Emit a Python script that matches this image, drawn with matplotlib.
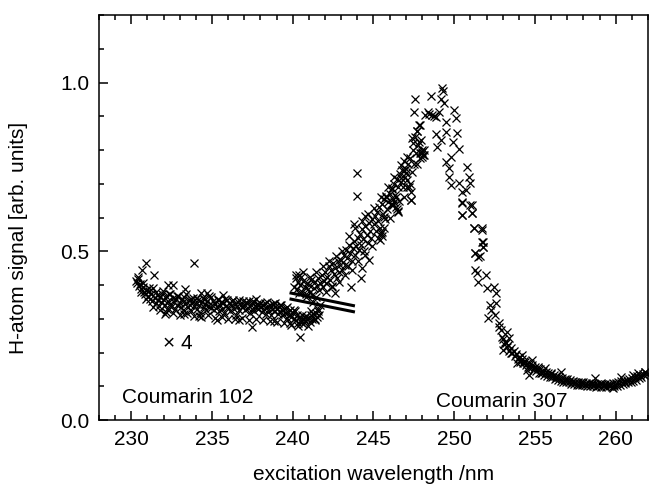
import matplotlib.pyplot as plt
from matplotlib.ticker import MultipleLocator

plt.rcParams['font.family'] = ['Liberation Sans', 'DejaVu Sans']

# ---- Coumarin 102 (scaled x4) ----
c102_x = [230.30, 230.36, 230.42, 230.48, 230.55, 230.62, 230.70, 230.78, 230.86, 230.94,
          231.02, 231.09, 231.16, 231.23, 231.30, 231.37, 231.44, 231.51, 231.58, 231.65, 231.72, 231.79, 231.86, 231.93,
          232.00, 232.07, 232.14, 232.21, 232.28, 232.35, 232.42, 232.49, 232.56, 232.63, 232.70, 232.77, 232.84, 232.91,
          233.00, 233.07, 233.14, 233.21, 233.28, 233.35, 233.42, 233.49, 233.56, 233.63, 233.70, 233.77, 233.84, 233.91,
          234.00, 234.07, 234.14, 234.21, 234.28, 234.35, 234.42, 234.49, 234.56, 234.63, 234.70, 234.77, 234.84, 234.91,
          235.00, 235.07, 235.14, 235.21, 235.28, 235.35, 235.42, 235.49, 235.56, 235.63, 235.70, 235.77, 235.84, 235.91,
          236.00, 236.07, 236.14, 236.21, 236.28, 236.35, 236.42, 236.49, 236.56, 236.63, 236.70, 236.77, 236.84, 236.91,
          237.00, 237.07, 237.14, 237.21, 237.28, 237.35, 237.42, 237.49, 237.56, 237.63, 237.70, 237.77, 237.84, 237.91,
          238.00, 238.07, 238.14, 238.21, 238.28, 238.35, 238.42, 238.49, 238.56, 238.63, 238.70, 238.77, 238.84, 238.91,
          239.00, 239.07, 239.14, 239.21, 239.28, 239.35, 239.42, 239.49, 239.56, 239.63, 239.70, 239.77, 239.84, 239.91,
          240.00, 240.07, 240.14, 240.21, 240.28, 240.35, 240.42, 240.49, 240.56, 240.63, 240.70, 240.77, 240.84, 240.91,
          241.00, 241.07, 241.14, 241.21, 241.28, 241.35, 241.42, 241.49, 241.56, 241.63,
          230.65, 230.90, 231.40, 233.90, 232.30, 232.60, 233.35, 234.30, 234.70, 235.67, 238.90,
          237.70, 232.10, 233.25, 234.20, 235.30, 236.70, 237.50, 238.86, 239.80, 240.45]
c102_y = [0.412, 0.405, 0.418, 0.398, 0.402, 0.388, 0.395, 0.380, 0.372, 0.385,
          0.368, 0.382, 0.358, 0.374, 0.352, 0.390, 0.362, 0.346, 0.370, 0.355, 0.338, 0.365, 0.349, 0.372,
          0.356, 0.340, 0.366, 0.328, 0.352, 0.374, 0.345, 0.335, 0.362, 0.350, 0.330, 0.358, 0.342, 0.368,
          0.348, 0.336, 0.360, 0.326, 0.352, 0.344, 0.372, 0.334, 0.355, 0.340, 0.322, 0.350, 0.362, 0.338,
          0.345, 0.330, 0.356, 0.340, 0.318, 0.350, 0.362, 0.335, 0.344, 0.326, 0.352, 0.338, 0.366, 0.332,
          0.340, 0.352, 0.326, 0.345, 0.334, 0.360, 0.322, 0.342, 0.350, 0.330, 0.346, 0.318, 0.338, 0.355,
          0.336, 0.348, 0.322, 0.340, 0.356, 0.330, 0.344, 0.312, 0.338, 0.350, 0.326, 0.342, 0.334, 0.352,
          0.338, 0.325, 0.346, 0.332, 0.352, 0.318, 0.340, 0.330, 0.348, 0.322, 0.336, 0.345, 0.328, 0.340,
          0.334, 0.320, 0.342, 0.328, 0.346, 0.315, 0.336, 0.325, 0.340, 0.312, 0.330, 0.344, 0.322, 0.335,
          0.328, 0.315, 0.336, 0.322, 0.340, 0.310, 0.326, 0.318, 0.332, 0.302, 0.320, 0.312, 0.326, 0.305,
          0.316, 0.300, 0.322, 0.296, 0.310, 0.288, 0.305, 0.295, 0.312, 0.285, 0.300, 0.292, 0.308, 0.298,
          0.302, 0.290, 0.310, 0.298, 0.315, 0.300, 0.318, 0.306, 0.322, 0.312,
          0.445, 0.466, 0.430, 0.466, 0.400, 0.400, 0.389, 0.377, 0.377, 0.371, 0.347,
          0.359, 0.315, 0.315, 0.307, 0.297, 0.297, 0.277, 0.292, 0.288, 0.247]

# second pass over the Coumarin 102 range
c102b_x = [230.40, 230.58, 230.75, 230.92, 231.12, 231.33, 231.55, 231.75, 231.96, 232.18,
           232.40, 232.60, 232.82, 233.04, 233.25, 233.46, 233.68, 233.88, 234.10, 234.32,
           234.52, 234.74, 234.95, 235.16, 235.38, 235.60, 235.80, 236.02, 236.24, 236.45,
           236.66, 236.88, 237.10, 237.30, 237.52, 237.74, 237.95, 238.16, 238.38, 238.60,
           238.80, 239.02, 239.24, 239.45, 239.66, 239.88, 240.10, 240.30, 240.52, 240.74,
           240.95, 241.16, 241.38, 241.55]
c102b_y = [0.425, 0.380, 0.405, 0.360, 0.390, 0.335, 0.378, 0.325, 0.382, 0.320,
           0.372, 0.318, 0.368, 0.312, 0.365, 0.316, 0.360, 0.308, 0.362, 0.305,
           0.358, 0.310, 0.365, 0.302, 0.355, 0.305, 0.360, 0.300, 0.352, 0.298,
           0.356, 0.302, 0.350, 0.296, 0.354, 0.298, 0.348, 0.295, 0.350, 0.292,
           0.345, 0.290, 0.340, 0.288, 0.335, 0.282, 0.325, 0.278, 0.290, 0.305,
           0.280, 0.322, 0.295, 0.330]

# ---- Coumarin 307: rising edge ----
rise_x = [240.10, 240.17, 240.24, 240.31, 240.38, 240.45, 240.52, 240.59, 240.66, 240.73, 240.80, 240.87, 240.94,
          241.01, 241.08, 241.15, 241.22, 241.29, 241.36, 241.43, 241.50, 241.57, 241.64, 241.71, 241.78, 241.85, 241.92,
          242.01, 242.08, 242.15, 242.22, 242.29, 242.36, 242.43, 242.50, 242.57, 242.64, 242.71, 242.78, 242.85, 242.92,
          243.01, 243.08, 243.15, 243.22, 243.29, 243.36, 243.43, 243.50, 243.57, 243.64, 243.71, 243.78, 243.85, 243.92,
          244.01, 244.08, 244.15, 244.22, 244.29, 244.36, 244.43, 244.50, 244.57, 244.64, 244.71, 244.78, 244.85, 244.92,
          245.01, 245.08, 245.15, 245.22, 245.29, 245.36, 245.43, 245.50, 245.57, 245.64, 245.71, 245.78, 245.85, 245.92,
          246.01, 246.08, 246.15, 246.22, 246.29, 246.36, 246.43, 246.50, 246.57, 246.64, 246.71, 246.78, 246.85, 246.92,
          247.01, 247.08, 247.15, 247.22, 247.29, 247.36, 247.43, 247.50, 247.57, 247.64, 247.71, 247.78, 247.85, 247.92,
          244.00, 244.00, 243.80, 244.50, 244.30, 244.20, 244.70, 243.60, 242.60, 247.30, 246.50,
          246.20, 246.30, 246.40, 245.50, 245.45, 247.90, 248.00, 248.10, 247.95, 248.05, 247.88, 248.12]
rise_y = [0.395, 0.420, 0.388, 0.410, 0.430, 0.400, 0.424, 0.380, 0.412, 0.395, 0.372, 0.405, 0.388,
          0.400, 0.380, 0.415, 0.370, 0.392, 0.410, 0.365, 0.398, 0.420, 0.385, 0.405, 0.430, 0.395, 0.412,
          0.440, 0.405, 0.425, 0.455, 0.415, 0.445, 0.398, 0.465, 0.432, 0.450, 0.420, 0.470, 0.440, 0.458,
          0.475, 0.445, 0.490, 0.460, 0.505, 0.480, 0.455, 0.520, 0.495, 0.470, 0.510, 0.530, 0.488, 0.515,
          0.540, 0.505, 0.552, 0.520, 0.565, 0.535, 0.500, 0.575, 0.548, 0.525, 0.585, 0.560, 0.540, 0.595,
          0.580, 0.605, 0.560, 0.615, 0.590, 0.630, 0.570, 0.640, 0.610, 0.655, 0.595, 0.665, 0.625, 0.645,
          0.670, 0.640, 0.685, 0.655, 0.700, 0.668, 0.715, 0.690, 0.650, 0.728, 0.705, 0.742, 0.690, 0.720,
          0.745, 0.712, 0.760, 0.690, 0.775, 0.735, 0.800, 0.760, 0.838, 0.790, 0.855, 0.815, 0.875, 0.830,
          0.733, 0.663, 0.580, 0.605, 0.450, 0.420, 0.475, 0.395, 0.377, 0.653, 0.618,
          0.638, 0.645, 0.632, 0.545, 0.555, 0.790, 0.800, 0.785, 0.792, 0.785, 0.775, 0.800]

# second pass over the rising edge
riseb_x = [240.20, 240.40, 240.62, 240.85, 241.05, 241.25, 241.46, 241.66, 241.88, 242.05,
           242.26, 242.46, 242.68, 242.88, 243.05, 243.26, 243.46, 243.68, 243.88, 244.05,
           244.26, 244.46, 244.66, 244.88, 245.05, 245.26, 245.46, 245.66, 245.88, 246.05,
           246.26, 246.46, 246.68, 246.88, 247.05, 247.26, 247.46, 247.68]
riseb_y = [0.430, 0.375, 0.438, 0.365, 0.425, 0.350, 0.440, 0.340, 0.455, 0.380,
           0.470, 0.395, 0.485, 0.410, 0.500, 0.430, 0.545, 0.445, 0.570, 0.470,
           0.590, 0.490, 0.610, 0.515, 0.628, 0.540, 0.660, 0.570, 0.690, 0.600,
           0.720, 0.625, 0.755, 0.660, 0.780, 0.700, 0.820, 0.760]

# ---- Coumarin 307: peak ----
peak_x = [249.23, 248.55, 249.17, 247.57, 249.36, 247.50, 248.37, 248.60, 248.90, 249.97,
          250.10, 249.50, 247.80, 247.70, 248.90, 249.50, 250.20, 247.40, 249.20, 249.90,
          247.80, 248.96, 250.30, 248.00, 248.00, 249.80, 246.90, 249.50, 250.80, 246.90,
          249.70, 247.00, 246.70, 249.70, 250.90, 247.10, 246.15, 249.80, 251.00, 250.30,
          247.30, 245.80, 246.40, 250.50, 250.70, 247.30, 246.15, 250.50, 251.10, 245.65,
          246.50, 250.50, 251.10, 245.50, 251.20, 251.70, 245.40, 251.80, 251.80, 251.30,
          251.50, 248.45, 248.75, 249.05, 249.30, 248.20]
peak_y = [0.985, 0.960, 0.950, 0.950, 0.940, 0.914, 0.914, 0.905, 0.899, 0.920,
          0.896, 0.884, 0.875, 0.855, 0.846, 0.852, 0.849, 0.837, 0.830, 0.825,
          0.825, 0.810, 0.804, 0.795, 0.780, 0.780, 0.766, 0.763, 0.750, 0.742,
          0.748, 0.733, 0.718, 0.721, 0.721, 0.691, 0.688, 0.697, 0.703, 0.703,
          0.677, 0.662, 0.662, 0.677, 0.682, 0.653, 0.638, 0.647, 0.638, 0.602,
          0.617, 0.608, 0.614, 0.558, 0.570, 0.570, 0.534, 0.528, 0.513, 0.496,
          0.484, 0.908, 0.902, 0.912, 0.975, 0.905]

# ---- Coumarin 307: falling edge ----
fall_x = [250.50, 251.00, 250.50, 251.10, 251.20, 251.70, 251.70, 251.80, 251.30, 251.60,
          251.30, 251.40, 251.95, 251.50, 252.00, 252.45, 252.60, 252.60, 252.30, 252.10,
          252.75, 252.90, 253.25, 252.95, 253.40, 253.20, 253.05, 253.50, 254.00, 254.20,
          253.90, 254.40, 254.80, 254.50, 254.60, 255.20, 255.65, 255.40, 256.00, 256.60,
          256.30, 256.90, 257.30, 257.90, 258.50, 258.70, 259.10, 259.70, 259.85, 260.35,
          260.60, 261.10, 261.40, 261.80, 252.20, 252.50, 252.80]
fall_y = [0.644, 0.638, 0.608, 0.614, 0.570, 0.564, 0.528, 0.513, 0.496, 0.487,
          0.445, 0.436, 0.430, 0.410, 0.390, 0.395, 0.377, 0.347, 0.326, 0.303,
          0.288, 0.267, 0.261, 0.246, 0.243, 0.228, 0.208, 0.199, 0.187, 0.193,
          0.169, 0.172, 0.178, 0.148, 0.134, 0.157, 0.154, 0.139, 0.139, 0.142,
          0.125, 0.119, 0.113, 0.110, 0.110, 0.125, 0.110, 0.104, 0.095, 0.128,
          0.113, 0.134, 0.139, 0.142, 0.340, 0.310, 0.275]

# ---- Coumarin 307: tail ----
tail_x = [253.00, 253.08, 253.17, 253.25, 253.33, 253.42, 253.50, 253.58, 253.67, 253.75, 253.83, 253.92,
          254.00, 254.08, 254.17, 254.25, 254.33, 254.42, 254.50, 254.58, 254.67, 254.75, 254.83, 254.92,
          255.00, 255.08, 255.17, 255.25, 255.33, 255.42, 255.50, 255.58, 255.67, 255.75, 255.83, 255.92,
          256.00, 256.08, 256.17, 256.25, 256.33, 256.42, 256.50, 256.58, 256.67, 256.75, 256.83, 256.92,
          257.00, 257.08, 257.17, 257.25, 257.33, 257.42, 257.50, 257.58, 257.67, 257.75, 257.83, 257.92,
          258.00, 258.08, 258.17, 258.25, 258.33, 258.42, 258.50, 258.58, 258.67, 258.75, 258.83, 258.92,
          259.00, 259.08, 259.17, 259.25, 259.33, 259.42, 259.50, 259.58, 259.67, 259.75, 259.83, 259.92,
          260.00, 260.08, 260.17, 260.25, 260.33, 260.42, 260.50, 260.58, 260.67, 260.75, 260.83, 260.92,
          261.00, 261.08, 261.17, 261.25, 261.33, 261.42, 261.50, 261.58, 261.67, 261.75, 261.83, 261.92]
tail_y = [0.240, 0.225, 0.232, 0.215, 0.222, 0.205, 0.212, 0.198, 0.205, 0.190, 0.196, 0.182,
          0.185, 0.172, 0.180, 0.168, 0.176, 0.162, 0.170, 0.158, 0.166, 0.154, 0.162, 0.150,
          0.158, 0.146, 0.152, 0.140, 0.150, 0.138, 0.145, 0.134, 0.142, 0.130, 0.138, 0.128,
          0.136, 0.126, 0.132, 0.122, 0.130, 0.118, 0.127, 0.116, 0.124, 0.114, 0.122, 0.112,
          0.121, 0.112, 0.118, 0.108, 0.116, 0.106, 0.114, 0.105, 0.113, 0.104, 0.112, 0.103,
          0.112, 0.104, 0.110, 0.102, 0.109, 0.101, 0.108, 0.100, 0.108, 0.099, 0.107, 0.100,
          0.108, 0.099, 0.107, 0.100, 0.106, 0.098, 0.108, 0.100, 0.107, 0.099, 0.109, 0.101,
          0.110, 0.102, 0.113, 0.105, 0.115, 0.107, 0.117, 0.109, 0.119, 0.112, 0.122, 0.114,
          0.124, 0.117, 0.128, 0.120, 0.131, 0.124, 0.134, 0.128, 0.137, 0.132, 0.141, 0.136]

# break marks between the two dye ranges
break_x = [239.8, 243.85]
break_y1 = [0.377, 0.338]
break_y2 = [0.359, 0.320]

fig = plt.figure(figsize=(6.49, 4.86), dpi=100)
ax = fig.add_axes([0.1525, 0.1358, 0.8460, 0.8333])

mk = dict(linestyle='none', marker='x', color='black', markersize=6, markeredgewidth=0.9)
for xs, ys in [(c102_x, c102_y), (c102b_x, c102b_y), (rise_x, rise_y), (riseb_x, riseb_y),
               (peak_x, peak_y), (fall_x, fall_y), (tail_x, tail_y)]:
    ax.plot(xs, ys, **mk)

ax.plot(break_x, break_y1, color='black', lw=2.2, solid_capstyle='butt')
ax.plot(break_x, break_y2, color='black', lw=2.2, solid_capstyle='butt')

ax.text(229.42, 0.068, 'Coumarin 102', fontsize=15, va='center', ha='left')
ax.text(248.86, 0.056, 'Coumarin 307', fontsize=15, va='center', ha='left')
ax.text(231.95, 0.228, '\u00d7 4', fontsize=15, va='center', ha='left')

ax.set_xlim(228, 262)
ax.set_ylim(0, 1.2)
ax.xaxis.set_major_locator(MultipleLocator(5))
ax.xaxis.set_minor_locator(MultipleLocator(1))
ax.yaxis.set_major_locator(MultipleLocator(0.5))
ax.yaxis.set_minor_locator(MultipleLocator(0.1))
ax.yaxis.set_major_formatter(plt.FormatStrFormatter('%.1f'))
ax.tick_params(which='both', direction='in', top=True, right=False, labelsize=15, width=1.1)
ax.tick_params(which='major', length=6.5, pad=7)
ax.tick_params(which='minor', length=3.5)
for s in ax.spines.values():
    s.set_linewidth(1.1)

ax.set_xlabel('excitation wavelength /nm', fontsize=15, labelpad=12)
ax.set_ylabel('H-atom signal [arb. units]', fontsize=15)
ax.yaxis.set_label_coords(-0.13, 0.45)

fig.savefig('out.png', dpi=100)
